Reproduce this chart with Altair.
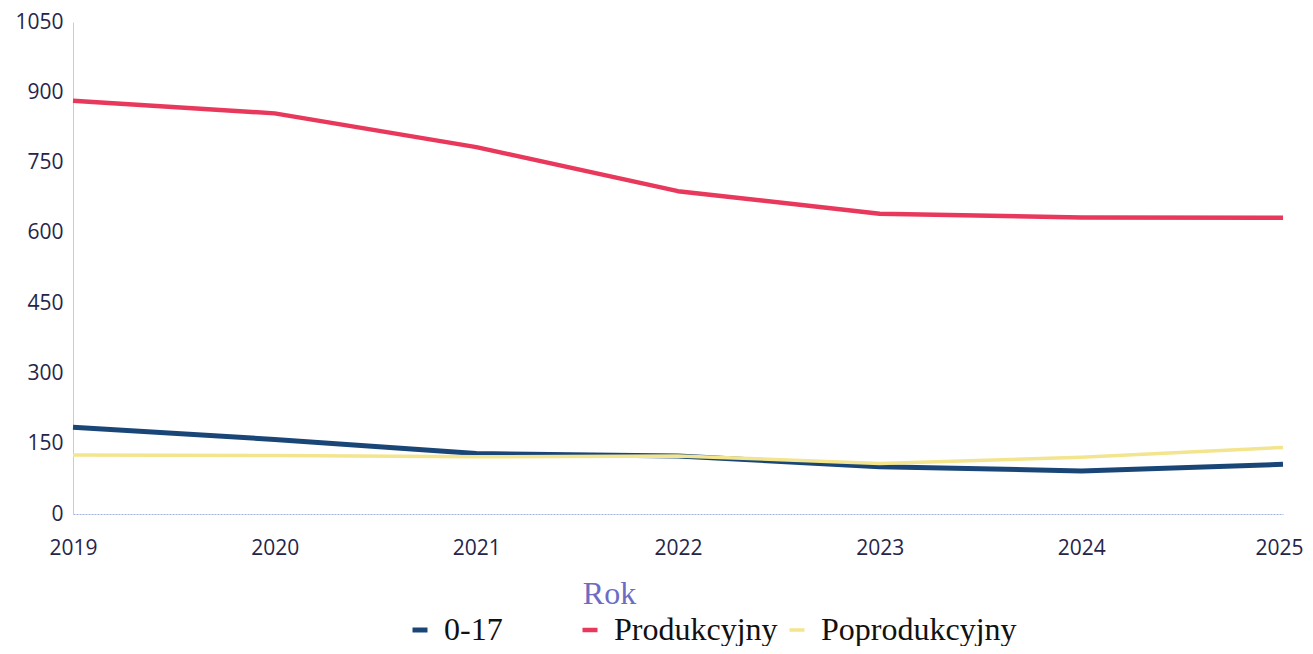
import altair as alt
import pandas as pd

years = [2019, 2020, 2021, 2022, 2023, 2024, 2025]
series_names = ["0-17", "Produkcyjny", "Poprodukcyjny"]
v_0_17 = [185, 159, 129, 124, 101, 92, 106]
v_prod = [882, 855, 783, 689, 641, 633, 632]
v_poprod = [126, 125, 122, 124, 108, 121, 142]
y_ticks = [0, 150, 300, 450, 600, 750, 900, 1050]
colors = ["#1a4677", "#e8385c", "#f3e58e"]
widths = [5, 4.5, 3.5]

rows = []
for name, vals in zip(series_names, [v_0_17, v_prod, v_poprod]):
    for yr, v in zip(years, vals):
        rows.append({"Rok": yr, "Wartość": v, "Grupa": name})
df = pd.DataFrame(rows)

x_enc = alt.X("Rok:Q",
              scale=alt.Scale(domain=[2019, 2025], nice=False, zero=False),
              axis=alt.Axis(values=years, format="d", grid=False, ticks=False,
                            labelPadding=23, labelFont="Open Sans", labelFontSize=21,
                            labelColor="#25254a", domainColor="#9fb0e0",
                            domainDash=[2, 1], domainWidth=1,
                            labelOffset={"condition": {"test": "datum.value == 2025", "value": -4},
                                         "value": 0},
                            title="Rok", titleFont="Liberation Serif",
                            titleFontSize=32, titleFontWeight="normal",
                            titleColor="#6c6cc4", titleX=536, titleY=89,
                            titleBaseline="alphabetic", titleAlign="center",
                            labelFlush=False))
y_enc = alt.Y("Wartość:Q",
              scale=alt.Scale(domain=[0, 1050], nice=False),
              axis=alt.Axis(values=y_ticks, format="d", grid=False, ticks=False,
                            labelPadding=10, labelFont="Open Sans", labelFontSize=21,
                            labelColor="#25254a", domainColor="#c8c8ea",
                            domainWidth=1, title=None))


def legend_at(x):
    return alt.Legend(title=None, orient="none", direction="horizontal",
                      legendX=x, legendY=592,
                      symbolType="stroke", symbolSize=225, symbolStrokeWidth=5,
                      labelFont="Liberation Serif", labelFontSize=32,
                      labelColor="#111111", labelOffset=8,
                      columnPadding=3, labelLimit=500)


base = alt.Chart(df)

layer_a = base.transform_filter(
    alt.FieldEqualPredicate(field="Grupa", equal=series_names[0])
).mark_line(strokeCap="butt", strokeJoin="round", strokeWidth=widths[0]).encode(
    x=x_enc,
    y=y_enc,
    color=alt.Color("Grupa:N",
                    scale=alt.Scale(domain=series_names[:1], range=colors[:1]),
                    legend=legend_at(331)),
    order=alt.Order("Rok:Q"),
)

layer_b = base.transform_filter(
    alt.FieldOneOfPredicate(field="Grupa", oneOf=series_names[1:])
).mark_line(strokeCap="butt", strokeJoin="round").encode(
    x=x_enc,
    y=y_enc,
    color=alt.Color("Grupa:N",
                    scale=alt.Scale(domain=series_names[1:], range=colors[1:]),
                    sort=series_names[1:], legend=legend_at(501)),
    strokeWidth=alt.StrokeWidth("Grupa:N",
                                scale=alt.Scale(domain=series_names[1:], range=widths[1:]),
                                legend=None),
    order=alt.Order("Rok:Q"),
)

chart = alt.layer(layer_a, layer_b).resolve_scale(
    color="independent", strokeWidth="independent"
).properties(
    width=1210, height=492,
    autosize=alt.AutoSizeParams(type="none"),
    padding={"left": 65, "top": 14, "right": 22, "bottom": 132},
).configure(background="white").configure_view(stroke=None)

chart.save("out.html", embed_options={"renderer": "svg", "actions": False})
